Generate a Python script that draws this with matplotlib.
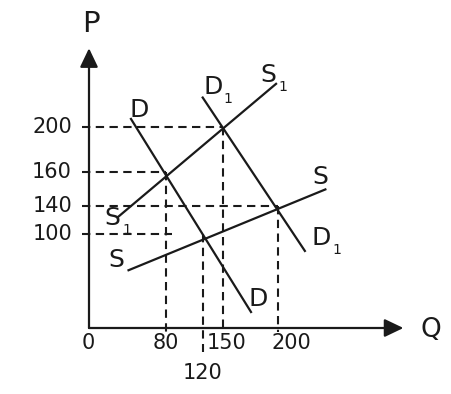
import numpy as np
import matplotlib
matplotlib.use("Agg")
import matplotlib.pyplot as plt

# values marked on the axes
q_ticks = [0, 80, 120, 150, 200]
p_ticks = [0, 100, 140, 160, 200]
q_tick_labels = ["0", "80", "120", "150", "200"]
p_tick_labels = ["", "100", "140", "160", "200"]

# the drawing is not to scale: pixels from the origin for each marked value
q_pix = [0, 77, 114, 134, 189]
p_pix = [0, 94, 122, 156, 201]

# demand / supply lines, (start, end) in Q and P
curve_names = ["D", "D1", "S", "S1"]
curve_q = [(43, 176), (119, 225), (40, 244), (29, 199)]
curve_p = [(208, 16), (227, 81), (61, 150), (123, 239)]

# equilibrium points with their dashed guides
eq_q = [80, 120, 150, 200]
eq_p = [160, 100, 200, 140]
guide_q_end = [80, 86, 150, 200]        # how far the horizontal dash runs
guide_p_end = [-4.5, -25, -4.5, -4.5]   # how far the vertical dash runs

# axis tips
q_max = 314
p_max = 270


def piecewise(src, dst):
    src = np.asarray(src, float)
    dst = np.asarray(dst, float)
    s0 = (dst[1] - dst[0]) / (src[1] - src[0])
    s1 = (dst[-1] - dst[-2]) / (src[-1] - src[-2])

    def f(v):
        v = np.asarray(v, float)
        out = np.interp(v, src, dst)
        out = np.where(v < src[0], dst[0] + (v - src[0]) * s0, out)
        out = np.where(v > src[-1], dst[-1] + (v - src[-1]) * s1, out)
        return out
    return f


q_fwd, q_inv = piecewise(q_ticks, q_pix), piecewise(q_pix, q_ticks)
p_fwd, p_inv = piecewise(p_ticks, p_pix), piecewise(p_pix, p_ticks)

W, H = 452, 394
X0, Y0 = 89, 328  # origin in the picture

fig = plt.figure(figsize=(W / 100, H / 100), dpi=100)
ax = fig.add_axes([0, 0, 1, 1])
ax.set_xscale("function", functions=(q_fwd, q_inv))
ax.set_yscale("function", functions=(p_fwd, p_inv))
ax.set_xlim(float(q_inv(-X0)), float(q_inv(W - X0)))
ax.set_ylim(float(p_inv(Y0 - H)), float(p_inv(Y0)))
ax.axis("off")

ink = "#1a1a1a"

# axes with arrow heads
arrow = dict(arrowstyle="-|>,head_length=1.15,head_width=0.55", lw=1.6,
             color=ink, shrinkA=0, shrinkB=0, mutation_scale=10)
ax.annotate("", xy=(0, p_max), xytext=(0, 0), arrowprops=arrow)
ax.annotate("", xy=(q_max, 0), xytext=(0, 0), arrowprops=arrow)
ax.annotate("P", xy=(0, p_max), xytext=(2, 24), textcoords="offset pixels",
            ha="center", va="center", fontsize=21, color=ink)
ax.annotate("Q", xy=(q_max, 0), xytext=(27, -2), textcoords="offset pixels",
            ha="center", va="center", fontsize=19, color=ink)

# dashed guides
dash = dict(color=ink, lw=1.5, dashes=(4, 2.6))
for q, p, qe, pe in zip(eq_q, eq_p, guide_q_end, guide_p_end):
    ax.plot([-7, qe], [p, p], **dash)
    ax.plot([q, q], [p, pe], **dash)

# curves
for qs, ps in zip(curve_q, curve_p):
    ax.plot(qs, ps, color=ink, lw=1.6, solid_capstyle="butt")

# curve labels: (curve, end, dx, dy) in pixels from the line end
label_spots = [(0, 0, 9, 8), (0, 1, 7, 14),
               (1, 0, 11, 10), (1, 1, 16, 14),
               (2, 0, -11, 11), (2, 1, -6, 12),
               (3, 0, -5, 0), (3, 1, -9, 8)]
for ci, end, dx, dy in label_spots:
    name = curve_names[ci]
    pt = (curve_q[ci][end], curve_p[ci][end])
    ax.annotate(name[0], xy=pt, xytext=(dx, dy), textcoords="offset pixels",
                ha="center", va="center", fontsize=18, color=ink)
    if len(name) > 1:
        ax.annotate(name[1:], xy=pt, xytext=(dx + 15, dy - 12),
                    textcoords="offset pixels", ha="center", va="center",
                    fontsize=10, color=ink)

# tick labels
q_label_shift = [(-1, -15), (0, -15), (0, -45), (4, -15), (13, -15)]
for q, lab, (dx, dy) in zip(q_ticks, q_tick_labels, q_label_shift):
    ax.annotate(lab, xy=(q, 0), xytext=(dx, dy), textcoords="offset pixels",
                ha="center", va="center", fontsize=15, color=ink)
for p, lab in zip(p_ticks, p_tick_labels):
    ax.annotate(lab, xy=(0, p), xytext=(-17, 0), textcoords="offset pixels",
                ha="right", va="center", fontsize=15, color=ink)

fig.savefig("out.png", dpi=100)
